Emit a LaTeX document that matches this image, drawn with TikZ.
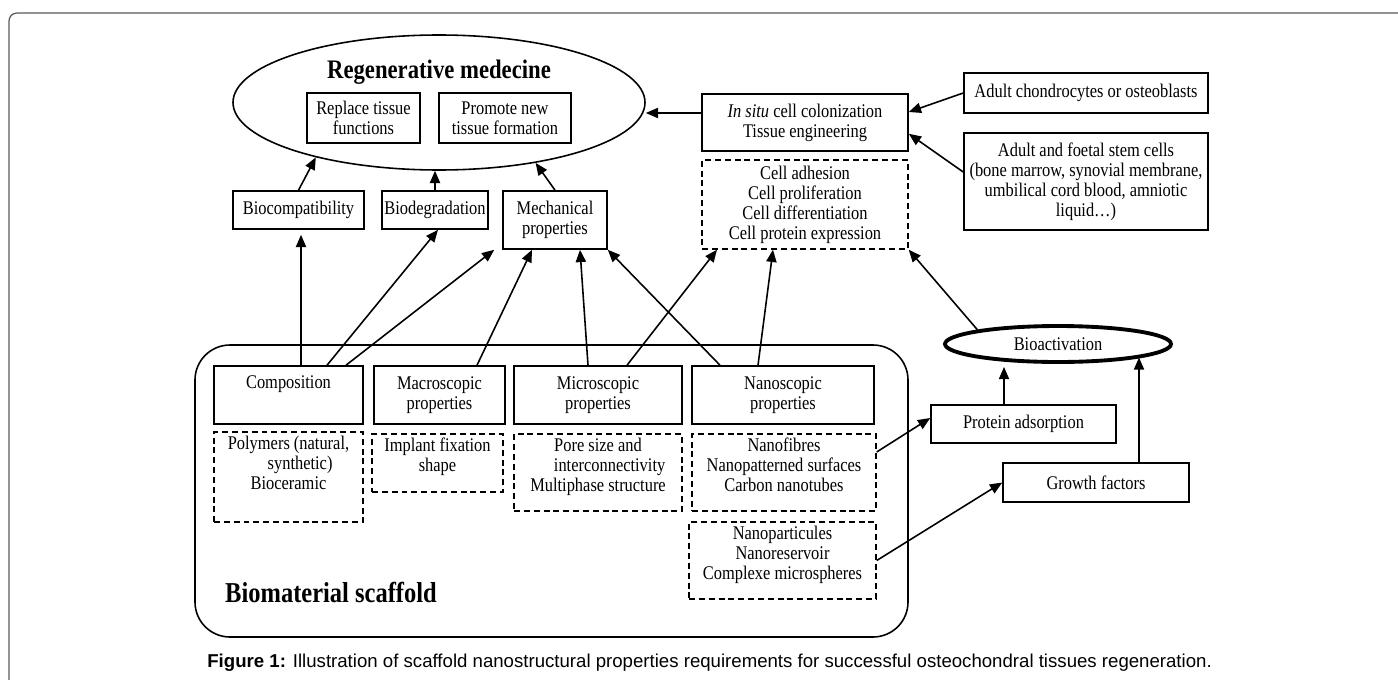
\documentclass[tikz,border=0pt]{standalone}
\usepackage{fontspec}
\setmainfont{Liberation Serif}[FakeStretch=0.85]
\setsansfont{Liberation Sans}
\usetikzlibrary{shapes.geometric,arrows.meta}

\def\bodysize{\fontsize{11pt}{11.34pt}\selectfont}

\begin{document}
\begin{tikzpicture}
[x=0.02cm,y=-0.02cm,>={Triangle[length=7pt,width=5.8pt]},
box/.style={draw,line width=0.9pt,inner sep=0pt,align=center,font=\bodysize},
dbox/.style={box,line width=0.8pt,dash pattern=on 3.4pt off 2.2pt},
sz/.style 2 args={minimum width=#1*0.02cm,minimum height=#2*0.02cm},
arr/.style={->,line width=0.9pt}]

\useasboundingbox (0,0) rectangle (1398,679);

% the outer frame
\draw[gray!70!black,line width=0.7pt,rounded corners=0.16cm] (1402,13) -- (9,13) -- (9,683);

%%
%%%Regenerative medecine
\node[ellipse,draw,line width=0.9pt,inner sep=0pt,sz={412}{135}] (regen) at (439,102.5) {};
\node[font=\fontsize{15.2pt}{18pt}\selectfont\bfseries] (regentitle) at (439,72) {Regenerative medecine};
\node[box,sz={113}{50}] (replace) at (363.5,118) {Replace tissue\\functions};
\node[box,sz={132}{50}] (promote) at (505,118) {Promote new\\tissue formation};

%%%Requirements
\node[box,sz={131}{38}] (biocomp) at (298.5,210) {Biocompatibility};
\node[box,sz={106}{38}] (biodeg) at (435,210) {Biodegradation};
\node[box,sz={104}{58}] (mech) at (555,220) {Mechanical\\properties};

%%%Cells
\node[box,sz={206}{57}] (insitu) at (805,122.5) {\textit{In situ} cell colonization\\Tissue engineering};
\node[dbox,sz={206}{89}] (cellbox) at (805,204.5) {Cell adhesion\\Cell proliferation\\Cell differentiation\\Cell protein expression};
\node[box,sz={244}{40}] (chondro) at (1086,93) {Adult chondrocytes or osteoblasts};
\node[box,sz={244}{97}] (stem) at (1086,181.5) {Adult and foetal stem cells\\(bone marrow, synovial membrane,\\umbilical cord blood, amniotic\\liquid…)};

%%%Biomaterial scaffold
\node[draw,line width=0.9pt,rounded corners=0.7cm,sz={713}{292}] (scaffold) at (551.5,491) {};
\node[font=\fontsize{16.4pt}{19pt}\selectfont\bfseries] (scaffoldtitle) at (331,592) {Biomaterial scaffold};
\node[box,sz={149}{58}] (comp) at (288.5,395) {Composition\\\strut};
\node[box,sz={131}{58}] (macro) at (439.5,395) {Macroscopic\\properties};
\node[box,sz={168}{58}] (micro) at (598,395) {Microscopic\\properties};
\node[box,sz={182}{58}] (nano) at (783,395) {Nanoscopic\\properties};
\node[dbox,sz={149}{90}] (polym) at (288.5,477) {Polymers (natural,\\\hspace{1.2em}synthetic)\\Bioceramic\\[4.8pt]\mbox{}};
\node[dbox,sz={131}{58}] (implant) at (437.5,463) {Implant fixation\\shape\\[-1.9pt]\mbox{}};
\node[dbox,sz={168}{77}] (pore) at (598,472.5) {Pore size and\\\hspace{1.2em}interconnectivity\\Multiphase structure\\[-2.4pt]\mbox{}};
\node[dbox,sz={184}{77}] (nanofib) at (784,472.5) {Nanofibres\\Nanopatterned surfaces\\Carbon nanotubes\\[-2.4pt]\mbox{}};
\node[dbox,sz={187}{77}] (nanopart) at (782.5,560.5) {Nanoparticules\\Nanoreservoir\\Complexe microspheres\\[-2.4pt]\mbox{}};

%%%Bioactivation
\node[ellipse,draw,line width=2.2pt,inner sep=0pt,sz={226}{36},font=\bodysize] (bioact) at (1058,344) {Bioactivation};
\node[box,sz={185}{38}] (protein) at (1023.5,424) {Protein adsorption};
\node[box,sz={186}{39}] (growth) at (1096,482.5) {Growth factors};

% the arrows to the top
\draw[arr] (biocomp.north) -- (regen.204);
\draw[arr] (biodeg.north) -- (biodeg.north |- regen.south);
\draw[arr] (mech.north) -- (regen.328);
\draw[arr] ([yshift=9.5*0.02cm]insitu.west) -- ([yshift=9.5*0.02cm]insitu.west -| regen.east);
\draw[arr] (chondro.west) -- ([yshift=10.5*0.02cm]insitu.east);
\draw[arr] ([yshift=9.5*0.02cm]stem.west) -- ([yshift=18*0.02cm]insitu.south east);

% the arrows from the scaffold
\draw[arr] ([xshift=12.5*0.02cm]comp.north) -- ([xshift=12.5*0.02cm,yshift=-5*0.02cm]comp.north |- biocomp.south);
\draw[arr] ([xshift=38.5*0.02cm]comp.north) -- ([xshift=3*0.02cm]biodeg.south);
\draw[arr] ([xshift=57.5*0.02cm]comp.north) -- ([xshift=-8*0.02cm]mech.south west);
\draw[arr] ([xshift=37.5*0.02cm]macro.north) -- ([xshift=-23*0.02cm]mech.south);
\draw[arr] ([xshift=-10*0.02cm]micro.north) -- ([xshift=25*0.02cm]mech.south);
\draw[arr] ([xshift=29*0.02cm]micro.north) -- ([xshift=-88*0.02cm]cellbox.south);
\draw[arr] ([xshift=-63*0.02cm]nano.north) -- (mech.south east);
\draw[arr] ([xshift=-25*0.02cm]nano.north) -- ([xshift=-32*0.02cm]cellbox.south);

% the bioactivation arrows
\draw[arr] ([yshift=20.5*0.02cm]nanofib.east) -- ([yshift=6*0.02cm]protein.west);
\draw[arr] (nanopart.east) -- (growth.west);
\draw[arr] ([xshift=-19.5*0.02cm]protein.north) -- ([xshift=-19.5*0.02cm,yshift=-3*0.02cm]protein.north |- bioact.south);
\draw[arr] ([xshift=43*0.02cm]growth.north) -- ([xshift=43*0.02cm]growth.north |- bioact.351);
\draw[arr] (bioact.170) -- (cellbox.south east);

% the caption
\node[anchor=west,inner sep=0pt,font=\sffamily\fontsize{10.6pt}{12pt}\selectfont] (caption) at (207,663) {\textbf{Figure 1:} Illustration of scaffold nanostructural properties requirements for successful osteochondral tissues regeneration.};

\end{tikzpicture}
\end{document}
